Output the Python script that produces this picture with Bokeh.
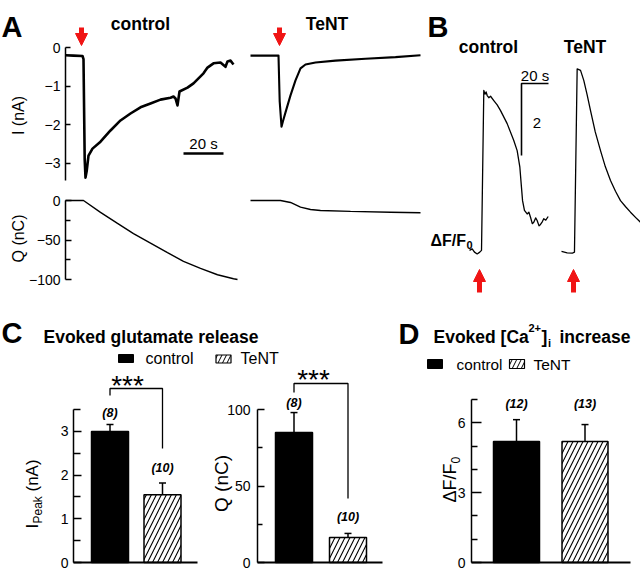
import math
from bokeh.plotting import figure
from bokeh.models import (Range1d, LinearAxis, FixedTicker, CustomJSTickFormatter, Label,
                          Arrow, NormalHead, Whisker, TeeHead, ColumnDataSource)
from bokeh.embed import file_html
from bokeh.resources import INLINE
from bokeh.core.properties import value

# ---------------- data ----------------
# Panel A: whole-cell current I (nA) and charge Q (nC) versus time (s)
a_ctrl_t = [0.0, 4.0, 8.5, 9.0, 9.6, 10.0, 10.6, 11.5, 13.5, 17.5, 22.5, 27.5, 32.5, 37.5, 42.5,
            47.5, 52.5, 54.0, 55.0, 56.0, 57.0, 61.0, 64.0, 66.5, 69.0, 71.0, 74.0, 77.5, 80.0,
            81.0, 82.5, 84.0]
a_ctrl_i = [-0.20, -0.21, -0.22, -0.30, -2.90, -3.37, -3.20, -2.80, -2.62, -2.44, -2.15, -1.89,
            -1.71, -1.55, -1.45, -1.35, -1.30, -1.27, -1.32, -1.50, -1.14, -1.04, -0.93, -0.80,
            -0.67, -0.52, -0.41, -0.39, -0.50, -0.36, -0.34, -0.44]
a_tent_t = [0.0, 14.0, 14.6, 15.5, 16.3, 17.5, 20.0, 22.5, 25.0, 27.5, 32.5, 42.5, 57.5, 72.5, 85.0]
a_tent_i = [-0.21, -0.21, -1.40, -2.05, -1.90, -1.68, -1.24, -0.85, -0.54, -0.44, -0.39, -0.34,
            -0.29, -0.25, -0.20]
a_ctrl_qt = [0, 9, 17.5, 26, 34, 42.5, 51, 59, 67.5, 76, 84, 86]
a_ctrl_q = [0, 0, -15, -29, -42, -54, -66, -77, -86, -94, -99, -100]
a_tent_qt = [0, 15, 20, 25, 30, 35, 50, 70, 85]
a_tent_q = [0, 0, -2.5, -8.4, -11.4, -12.7, -13.8, -14.8, -15.5]
a_stim = [8.0, 14.5]          # stimulus time (s): control, TeNT
a_bar_s = 20                  # time scale bar (s)
i_ticks = [0, -1, -2, -3]
q_ticks = [0, -50, -100]
q_minor = [-25, -75]

# Panel B: Ca2+ signal dF/F0 versus time (s)
b_ctrl_t = [0.0, 2.0, 3.7, 5.7, 7.6, 8.9, 10.6, 11.5, 12.3, 13.1, 14.3, 15.6, 18.0, 20.5, 23.0,
            27.9, 32.8, 35.3, 37.3, 38.5, 39.3, 40.7, 42.7, 44.0, 45.2, 46.5, 47.6, 49.0, 50.1,
            51.5, 52.6, 54.0, 55.0, 56.5, 58.3]
b_ctrl_f = [0.06, 0.10, 0.01, -0.04, 0.01, 0.06, 4.50, 4.40, 4.46, 4.36, 4.30, 4.34, 4.22, 4.10,
            3.94, 3.58, 3.11, 2.83, 2.37, 1.81, 1.44, 1.17, 1.07, 1.12, 0.98, 0.80, 0.84, 0.96,
            0.89, 0.74, 0.78, 0.86, 0.94, 0.90, 1.00]
b_tent_t = [0.0, 4.2, 8.0, 9.6, 11.6, 14.1, 16.5, 19.0, 21.5, 25.0, 28.9, 32.5, 36.3, 40.0, 43.7,
            47.5, 51.1, 55.0, 58.5]
b_tent_f = [0.03, -0.01, -0.02, 0.01, 5.10, 5.06, 4.78, 4.38, 3.94, 3.35, 2.83, 2.38, 2.00, 1.70,
            1.44, 1.27, 1.12, 0.97, 0.84]
b_stim = [7.4, 8.9]
b_bar_s = 20
b_bar_f = 2

# Panels C and D: bar charts (mean, sem, n)
groups = ["control", "TeNT"]
c_ipeak_mean = [3.00, 1.55]
c_ipeak_sem = [0.16, 0.27]
c_q_mean = [85.0, 16.3]
c_q_sem = [13.0, 2.7]
c_n = [8, 10]
d_mean = [5.19, 5.19]
d_sem = [0.94, 0.73]
d_n = [12, 13]
c_i_ticks = [0, 1, 2, 3]
c_i_minor = [0.5, 1.5, 2.5, 3.5]
c_q_ticks = [0, 50, 100]
c_q_minor = [25, 75]
d_ticks = [0, 3, 6]
d_minor = [1, 2, 4, 5, 7]

# ---------------- canvas ----------------
W, H = 640, 571
FONT = "Liberation Sans"
RED = "#f01414"
BLACK = "black"
ROT = math.pi / 2
DY = -5          # bar charts lifted a little so their "0" tick labels stay on the page

p = figure(width=W, height=H, x_range=Range1d(0, W), y_range=Range1d(H, 0),
           x_axis_type=None, y_axis_type=None, toolbar_location=None,
           output_backend="svg", min_border=0)
p.outline_line_color = None
p.background_fill_color = "white"
p.border_fill_color = "white"

XR, YR = {}, {}


class Panel:
    """A sub-chart: its own linear scales, placed by mapping data onto page pixels."""

    def __init__(self, name, xa, kx, ya, ky):
        self.xa, self.kx, self.ya, self.ky = xa, kx, ya, ky
        self.xn, self.yn = name + "_x", name + "_y"
        XR[self.xn] = Range1d(self.X(0), self.X(W))
        YR[self.yn] = Range1d(self.Y(H), self.Y(0))
        self.kw = dict(x_range_name=self.xn, y_range_name=self.yn)

    def X(self, px):
        return (px - self.xa) / self.kx

    def Y(self, py):
        return -(py - self.ya) / self.ky


aI = Panel("aI", 65, 2.0, 47, 38.6)
aIt = Panel("aIt", 250, 2.0, 47, 38.6)
aQ = Panel("aQ", 65, 2.0, 200, 0.79)
aQt = Panel("aQt", 250, 2.0, 200, 0.79)
bC = Panel("bC", 469, 1.35, 252, 36)
bT = Panel("bT", 561, 1.35, 252, 36)
c1 = Panel("c1", 109.5, 52.5, 567 + DY, 43.7)
c2 = Panel("c2", 293.5, 54, 567 + DY, 1.53)
dd = Panel("dd", 516, 68.5, 567 + DY, 23.3)
p.extra_x_ranges = XR
p.extra_y_ranges = YR


def label(x, y, text, size, style="normal", align="left", baseline="alphabetic", angle=0.0):
    p.add_layout(Label(x=x, y=y, text=text, text_font=FONT, text_font_size=f"{size}px",
                       text_font_style=style, text_align=align, text_baseline=baseline,
                       angle=angle, text_color=BLACK))


MINUS_FMT = "return tick < 0 ? '\\u2212' + Math.abs(tick) : String(tick);"


def y_axis(pan, loc_px, ticks, minor, bounds, tick_in, minor_in, standoff, lw=1.5, size=14):
    ax = LinearAxis(ticker=FixedTicker(ticks=ticks, minor_ticks=minor),
                    formatter=CustomJSTickFormatter(code=MINUS_FMT),
                    fixed_location=pan.X(loc_px), bounds=bounds,
                    axis_line_color=BLACK, axis_line_width=lw,
                    major_tick_in=tick_in, major_tick_out=0,
                    minor_tick_in=minor_in, minor_tick_out=0,
                    major_tick_line_width=lw, minor_tick_line_width=lw,
                    major_tick_line_color=BLACK, minor_tick_line_color=BLACK,
                    major_label_standoff=standoff, major_label_text_font=FONT,
                    major_label_text_font_size=f"{size}px", major_label_text_color=BLACK,
                    **pan.kw)
    p.add_layout(ax, "left")


def x_base(pan, x0_px, x1_px, lw=1.8):
    ax = LinearAxis(ticker=FixedTicker(ticks=[]), fixed_location=0,
                    bounds=(pan.X(x0_px), pan.X(x1_px)), axis_line_color=BLACK,
                    axis_line_width=lw, major_tick_in=0, major_tick_out=0,
                    minor_tick_in=0, minor_tick_out=0, major_label_standoff=0,
                    major_label_text_font_size="0px", **pan.kw)
    p.add_layout(ax, "below")


def arrow(pan, x, y_from_px, y_to_px, head=12, shaft=5):
    p.add_layout(Arrow(end=NormalHead(size=head, fill_color=RED, line_color=RED, line_width=1),
                       x_start=x, y_start=pan.Y(y_from_px), x_end=x, y_end=pan.Y(y_to_px),
                       line_color=RED, line_width=shaft, **pan.kw))


def bars(pan, means, sems, counts, width, offsets, cap=7):
    p.vbar(x=[0], top=[means[0]], width=width, fill_color=BLACK, line_color=BLACK,
           line_width=1.5, **pan.kw)
    p.vbar(x=[1], top=[means[1]], width=width, fill_color="white", line_color=BLACK,
           line_width=1.5, hatch_pattern="/", hatch_color=BLACK, hatch_scale=10,
           hatch_weight=1.1, **pan.kw)
    hi = [m + s for m, s in zip(means, sems)]
    src = ColumnDataSource(dict(x=[0, 1], lo=list(means), hi=hi))
    p.add_layout(Whisker(source=src, base="x", lower="lo", upper="hi", dimension="height",
                         line_color=BLACK, line_width=1.5,
                         upper_head=TeeHead(size=cap, line_color=BLACK, line_width=1.5),
                         lower_head=None, **pan.kw))
    p.text(x=[0, 1], y=hi, text=[f"({n})" for n in counts], y_offset=[-o for o in offsets],
           text_font=value(FONT), text_font_size=value("12.5px"),
           text_font_style="bold italic", text_align="center", text_baseline="middle",
           text_color=BLACK, **pan.kw)


def bracket(pan, left_px, top_px, right_px):
    p.line([0, 0, 1, 1],
           [pan.Y(left_px + DY), pan.Y(top_px + DY), pan.Y(top_px + DY), pan.Y(right_px + DY)],
           line_color=BLACK, line_width=1.3, **pan.kw)


# ---------------- Panel A ----------------
label(1, 26, "A", 29, style="bold")
label(140, 23, "control", 17.5, style="bold", align="center")
label(326.5, 23, "TeNT", 17.5, style="bold", align="center")

p.line(a_ctrl_t, a_ctrl_i, line_color=BLACK, line_width=2.6, line_join="round", **aI.kw)
p.line(a_tent_t, a_tent_i, line_color=BLACK, line_width=2.1, line_join="round", **aIt.kw)
p.line(a_ctrl_qt, a_ctrl_q, line_color=BLACK, line_width=1.4, **aQ.kw)
p.line(a_tent_qt, a_tent_q, line_color=BLACK, line_width=1.4, **aQt.kw)
y_axis(aI, 65, i_ticks, [], (-3.45, 0), 5, 0, 5)
y_axis(aQ, 65, q_ticks, q_minor, (-100, 0), 6, 5, 5)
label(18, 115, "I (nA)", 16, align="center", baseline="middle", angle=ROT)
label(18, 238, "Q (nC)", 16, align="center", baseline="middle", angle=ROT)
arrow(aI, a_stim[0], 27, 45)
arrow(aIt, a_stim[1], 27, 45)
sb_t0, sb_y = aI.X(183), aI.Y(153)
p.line([sb_t0, sb_t0 + a_bar_s], [sb_y, sb_y], line_color=BLACK, line_width=2.4, **aI.kw)
label(203, 143, f"{a_bar_s} s", 15, align="center")

# ---------------- Panel B ----------------
label(427, 26, "B", 29, style="bold")
label(488, 46, "control", 17.5, style="bold", align="center")
label(584.5, 46, "TeNT", 17.5, style="bold", align="center")
p.line(b_ctrl_t, b_ctrl_f, line_color=BLACK, line_width=1.3, line_join="round", **bC.kw)
p.line(b_tent_t, b_tent_f, line_color=BLACK, line_width=1.3, line_join="round", **bT.kw)
bt0, bf0 = bC.X(521), bC.Y(83)
p.line([bt0 + b_bar_s, bt0, bt0], [bf0, bf0, bf0 - b_bar_f], line_color=BLACK,
       line_width=1.6, **bC.kw)
label(534.5, 75, f"{b_bar_s} s", 15, align="center")
label(536.5, 122, f"{b_bar_f}", 15, align="center")
label(430, 240, "\u0394F/F", 16, style="bold")
label(466, 244, "0", 11, style="bold")
arrow(bC, b_stim[0], 292, 269)
arrow(bT, b_stim[1], 292, 269)

# ---------------- Panel C ----------------
label(1, 332, "C", 29, style="bold")
label(43, 336, "Evoked glutamate release", 17.5, style="bold")
p.rect(x=[125.5], y=[358], width=15, height=8, fill_color=BLACK, line_color=BLACK)
p.rect(x=[223], y=[358.5], width=15, height=8, fill_color="white", line_color=BLACK,
       line_width=1.2, hatch_pattern="/", hatch_color=BLACK, hatch_scale=9, hatch_weight=1)
label(145, 358, groups[0], 16, baseline="middle")
label(240, 358, groups[1], 16, baseline="middle")

bars(c1, c_ipeak_mean, c_ipeak_sem, c_n, 37 / 52.5, [11, 15])
y_axis(c1, 73, c_i_ticks, c_i_minor, (0, 3.5), 8, 7, 5)
x_base(c1, 73, 197)
bracket(c1, 400, 393, 453)
label(127, 390 + DY, "***", 28, align="center")
label(32, 533 + DY, "I", 17, baseline="middle", angle=ROT)
label(37, 528 + DY, "Peak", 12, baseline="middle", angle=ROT)
label(32, 496 + DY, "(nA)", 17, baseline="middle", angle=ROT)

bars(c2, c_q_mean, c_q_sem, c_n, 37 / 54, [10, 16])
y_axis(c2, 257, c_q_ticks, c_q_minor, (0, 100), 7, 5, 7)
x_base(c2, 257, 382)
bracket(c2, 397, 388, 503)
label(313, 384 + DY, "***", 28, align="center")
label(221, 488 + DY, "Q (nC)", 19, align="center", baseline="middle", angle=ROT)

# ---------------- Panel D ----------------
label(398, 333, "D", 29, style="bold")
label(433, 336, "Evoked [Ca", 17.5, style="bold")
label(528, 327, "2+", 11, style="bold")
label(541, 336, "]", 17.5, style="bold")
label(547.5, 342, "i", 11, style="bold")
label(559, 336, "increase", 17.5, style="bold")
p.rect(x=[434.5], y=[363.5], width=15, height=9, fill_color=BLACK, line_color=BLACK)
p.rect(x=[516.5], y=[363.5], width=15, height=9, fill_color="white", line_color=BLACK,
       line_width=1.2, hatch_pattern="/", hatch_color=BLACK, hatch_scale=9, hatch_weight=1)
label(456, 363.5, groups[0], 15.3, baseline="middle")
label(533, 363.5, groups[1], 15.5, baseline="middle")

bars(dd, d_mean, d_sem, d_n, 46 / 68.5, [16, 21])
y_axis(dd, 471, d_ticks, d_minor, (0, 7), 10, 6, 6)
x_base(dd, 471, 630)
label(449, 507 + DY, "\u0394F/F", 18, baseline="middle", angle=ROT)
label(455, 468 + DY, "0", 12, baseline="middle", angle=ROT)

open("out.html", "w", encoding="utf-8").write(file_html(p, INLINE))
